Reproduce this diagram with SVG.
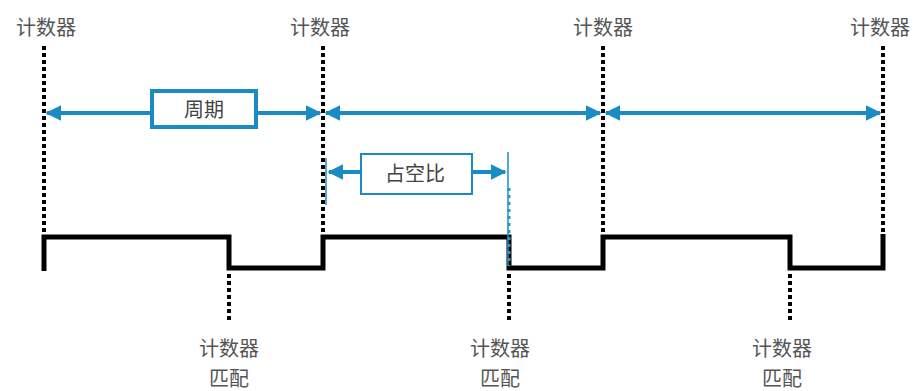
<svg xmlns="http://www.w3.org/2000/svg" width="916" height="391" viewBox="0 0 916 391">
<style>
.lbl{font-family:"Noto Sans CJK SC","Noto Sans",sans-serif;font-size:20px;fill:#555;text-anchor:middle}
.box{font-family:"Noto Sans CJK SC","Noto Sans",sans-serif;font-size:20px;fill:#444;text-anchor:middle}
.dot{stroke:#000;stroke-width:4;stroke-dasharray:4 3;fill:none}
.arr{stroke:#1a8cc4;stroke-width:4;fill:none}
</style>
<defs>
<marker id="ah" viewBox="0 0 10 10" refX="9" refY="5" markerWidth="4" markerHeight="4" orient="auto-start-reverse" markerUnits="strokeWidth">
<path d="M0,0 L10,5 L0,10 z" fill="#1a8cc4"/>
</marker>
</defs>
<rect width="916" height="391" fill="#fff"/>
<g id="counters">
<g id="c1"><text class="lbl" x="46" y="35">计数器</text><line class="dot" x1="44" y1="46" x2="44" y2="237"/></g>
<g id="c2"><text class="lbl" x="320" y="35">计数器</text><line class="dot" x1="323" y1="46" x2="323" y2="237"/></g>
<g id="c3"><text class="lbl" x="603" y="35">计数器</text><line class="dot" x1="603" y1="46" x2="603" y2="237"/></g>
<g id="c4"><text class="lbl" x="880" y="35">计数器</text><line class="dot" x1="883" y1="46" x2="883" y2="237"/></g>
</g>
<g id="matches">
<g id="m1"><line class="dot" x1="229" y1="274" x2="229" y2="322"/><text class="lbl" x="229" y="356">计数器</text><text class="lbl" x="229" y="386">匹配</text></g>
<g id="m2"><line class="dot" x1="509" y1="274" x2="509" y2="322"/><text class="lbl" x="500" y="356">计数器</text><text class="lbl" x="500" y="386">匹配</text></g>
<g id="m3"><line class="dot" x1="790" y1="274" x2="790" y2="322"/><text class="lbl" x="782" y="356">计数器</text><text class="lbl" x="782" y="386">匹配</text></g>
</g>
<g id="waveform">
<path d="M44,271 V237 H229 V268 H323 V237 H509 V268 H603 V237 H790 V268 H883 V234" fill="none" stroke="#000" stroke-width="5"/>
</g>
<g id="connectors">
<line class="arr" x1="47" y1="113" x2="320" y2="113" marker-start="url(#ah)" marker-end="url(#ah)"/>
<line class="arr" x1="326" y1="113" x2="600" y2="113" marker-start="url(#ah)" marker-end="url(#ah)"/>
<line class="arr" x1="606" y1="113" x2="880" y2="113" marker-start="url(#ah)" marker-end="url(#ah)"/>
<line x1="326" y1="158" x2="326" y2="205" stroke="#1a8cc4" stroke-width="1.5"/>
<line x1="508" y1="152" x2="508" y2="266" stroke="#1a8cc4" stroke-width="1.5"/>
<line x1="509" y1="188" x2="509" y2="266" stroke="#2a9ab8" stroke-width="3" stroke-dasharray="3 4"/>
<line class="arr" x1="329" y1="172" x2="505" y2="172" stroke-width="3" marker-start="url(#ah)" marker-end="url(#ah)"/>
</g>
<g id="period">
<rect x="152" y="91" width="104" height="36" fill="#fff" stroke="#1a8cc4" stroke-width="4"/>
<text class="box" x="204" y="117">周期</text>
</g>
<g id="duty">
<rect x="361" y="154" width="111" height="40" fill="#fff" stroke="#1a8cc4" stroke-width="2"/>
<text class="box" x="415" y="181">占空比</text>
</g>
</svg>
